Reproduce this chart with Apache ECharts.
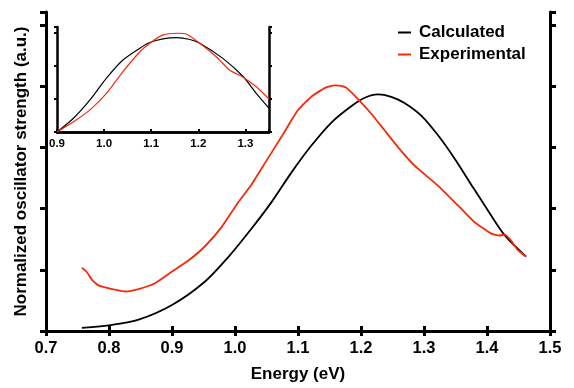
<!DOCTYPE html>
<html>
<head>
<meta charset="utf-8">
<script src="https://cdn.jsdelivr.net/npm/echarts@6/dist/echarts.min.js"></script>
<style>
  html, body { margin: 0; padding: 0; background: #fff; }
  #chart { width: 574px; height: 388px; }
</style>
</head>
<body>
<div id="chart"></div>
<script>
// main plot: energy (eV) vs normalized oscillator strength
const calcX = [0.757, 0.805, 0.847, 0.900, 0.952, 0.990, 1.026, 1.058, 1.090, 1.121, 1.153, 1.185, 1.206, 1.227, 1.248, 1.269, 1.296, 1.322, 1.349, 1.375, 1.402, 1.428, 1.462]
const calcY = [0.010, 0.020, 0.037, 0.085, 0.161, 0.243, 0.334, 0.421, 0.519, 0.605, 0.681, 0.735, 0.762, 0.773, 0.765, 0.745, 0.703, 0.640, 0.562, 0.478, 0.392, 0.313, 0.243]

const expX = [0.757, 0.765, 0.773, 0.784, 0.805, 0.826, 0.847, 0.873, 0.900, 0.926, 0.952, 0.979, 1.005, 1.026, 1.048, 1.074, 1.090, 1.100, 1.122, 1.143, 1.158, 1.170, 1.177, 1.196, 1.217, 1.238, 1.259, 1.285, 1.322, 1.354, 1.380, 1.407, 1.420, 1.428, 1.438, 1.449, 1.462]
const expY = [0.207, 0.192, 0.167, 0.148, 0.137, 0.129, 0.137, 0.156, 0.194, 0.230, 0.276, 0.340, 0.420, 0.478, 0.550, 0.635, 0.690, 0.722, 0.767, 0.794, 0.802, 0.800, 0.794, 0.756, 0.708, 0.654, 0.600, 0.540, 0.475, 0.410, 0.356, 0.318, 0.312, 0.315, 0.296, 0.264, 0.243]

// inset (zoom of 0.9 - 1.35 eV)
const insCalcX = [0.900, 0.935, 0.970, 1.005, 1.040, 1.076, 1.097, 1.125, 1.154, 1.180, 1.203, 1.252, 1.295, 1.323, 1.350]
const insCalcY = [0.00, 0.415, 0.97, 1.63, 2.18, 2.54, 2.71, 2.82, 2.86, 2.81, 2.69, 2.23, 1.68, 1.17, 0.72]
const insExpX = [0.900, 0.935, 0.970, 1.005, 1.040, 1.076, 1.097, 1.125, 1.154, 1.175, 1.203, 1.238, 1.266, 1.295, 1.323, 1.350]
const insExpY = [0.00, 0.31, 0.67, 1.17, 1.83, 2.43, 2.69, 2.94, 2.99, 2.96, 2.69, 2.28, 1.88, 1.66, 1.37, 1.00]

const xTicks = ['0.7', '0.8', '0.9', '1.0', '1.1', '1.2', '1.3', '1.4', '1.5']
const insTicks = ['0.9', '1.0', '1.1', '1.2', '1.3']

const red = '#f52a0a'
const font = 'Liberation Sans, Arial, sans-serif'

const zip = (xs, ys) => xs.map((x, i) => [x, ys[i]])

const chart = echarts.init(document.getElementById('chart'))

const frame = (w) => ({ show: true, lineStyle: { color: '#000', width: w } })
const ticks = (len, w) => ({ show: true, inside: false, length: len, lineStyle: { color: '#000', width: w } })

chart.setOption({
  backgroundColor: '#fff',
  animation: false,
  textStyle: { fontFamily: font },
  legend: {
    orient: 'vertical',
    left: 393,
    top: 19,
    itemWidth: 13,
    itemHeight: 2,
    itemGap: 5,
    icon: 'rect',
    textStyle: { fontSize: 17, fontWeight: 'bold', color: '#000', fontFamily: font, padding: [0, 0, 0, 3] },
    data: ['Calculated', 'Experimental']
  },
  grid: [
    { left: 46, right: 24, top: 12, bottom: 55 },
    { left: 57, right: 305, top: 27, bottom: 256, show: true, backgroundColor: '#fff', borderWidth: 0, z: 5 }
  ],
  xAxis: [
    {
      gridIndex: 0, type: 'value', min: 0.7, max: 1.5, interval: 0.1,
      axisLine: frame(3), axisTick: ticks(5, 3), splitLine: { show: false },
      axisLabel: {
        fontSize: 16.5, fontWeight: 'bold', color: '#000', margin: 9,
        formatter: (v) => xTicks[Math.round((v - 0.7) * 10)]
      },
      name: 'Energy (eV)', nameLocation: 'middle', nameGap: 35,
      nameTextStyle: { fontSize: 17, fontWeight: 'bold', color: '#000' }
    },
    {
      gridIndex: 0, type: 'value', position: 'top', min: 0.7, max: 1.5, interval: 0.1,
      axisLine: frame(3), axisTick: ticks(5, 3), axisLabel: { show: false }, splitLine: { show: false }
    },
    {
      gridIndex: 1, type: 'value', min: 0.9, max: 1.35, interval: 0.1,
      axisLine: frame(2.5), axisTick: { show: false }, splitLine: { show: false }, z: 6,
      axisLabel: {
        fontSize: 11.5, fontWeight: 'bold', color: '#000', margin: 6,
        formatter: (v) => insTicks[Math.round((v - 0.9) * 10)] || ''
      }
    },
    {
      gridIndex: 1, type: 'value', position: 'top', min: 0.9, max: 1.35, interval: 0.1,
      axisLine: frame(2.5), axisTick: ticks(3, 2), axisLabel: { show: false }, splitLine: { show: false }, z: 6
    }
  ],
  yAxis: [
    {
      gridIndex: 0, type: 'value', min: 0, max: 1.042, interval: 0.2,
      axisLine: frame(3), axisTick: ticks(6, 3), axisLabel: { show: false }, splitLine: { show: false },
      name: 'Normalized oscillator strength (a.u.)', nameLocation: 'middle', nameGap: 16,
      nameTextStyle: { fontSize: 17, fontWeight: 'bold', color: '#000' }
    },
    {
      gridIndex: 0, type: 'value', position: 'right', min: 0, max: 1.042, interval: 0.2,
      axisLine: frame(3), axisTick: ticks(6, 3), axisLabel: { show: false }, splitLine: { show: false }
    },
    {
      gridIndex: 1, type: 'value', min: 0, max: 3.18, interval: 1,
      axisLine: frame(2.5), axisTick: ticks(3, 2), axisLabel: { show: false }, splitLine: { show: false }, z: 6
    },
    {
      gridIndex: 1, type: 'value', position: 'right', min: 0, max: 3.18, interval: 1,
      axisLine: frame(2.5), axisTick: ticks(3, 2), axisLabel: { show: false }, splitLine: { show: false }, z: 6
    }
  ],
  series: [
    {
      name: 'Calculated', type: 'line', xAxisIndex: 0, yAxisIndex: 0,
      data: zip(calcX, calcY), smooth: 0.3, showSymbol: false,
      lineStyle: { color: '#000', width: 1.8 }, itemStyle: { color: '#000' }
    },
    {
      name: 'Experimental', type: 'line', xAxisIndex: 0, yAxisIndex: 0,
      data: zip(expX, expY), smooth: 0.15, showSymbol: false,
      lineStyle: { color: red, width: 1.8 }, itemStyle: { color: red }
    },
    {
      name: 'insCalc', type: 'line', xAxisIndex: 2, yAxisIndex: 2, z: 7,
      data: zip(insCalcX, insCalcY), smooth: 0.3, showSymbol: false,
      lineStyle: { color: '#000', width: 1.2 }
    },
    {
      name: 'insExp', type: 'line', xAxisIndex: 2, yAxisIndex: 2, z: 7,
      data: zip(insExpX, insExpY), smooth: 0.2, showSymbol: false,
      lineStyle: { color: red, width: 1.2 }
    }
  ]
})
</script>
</body>
</html>
